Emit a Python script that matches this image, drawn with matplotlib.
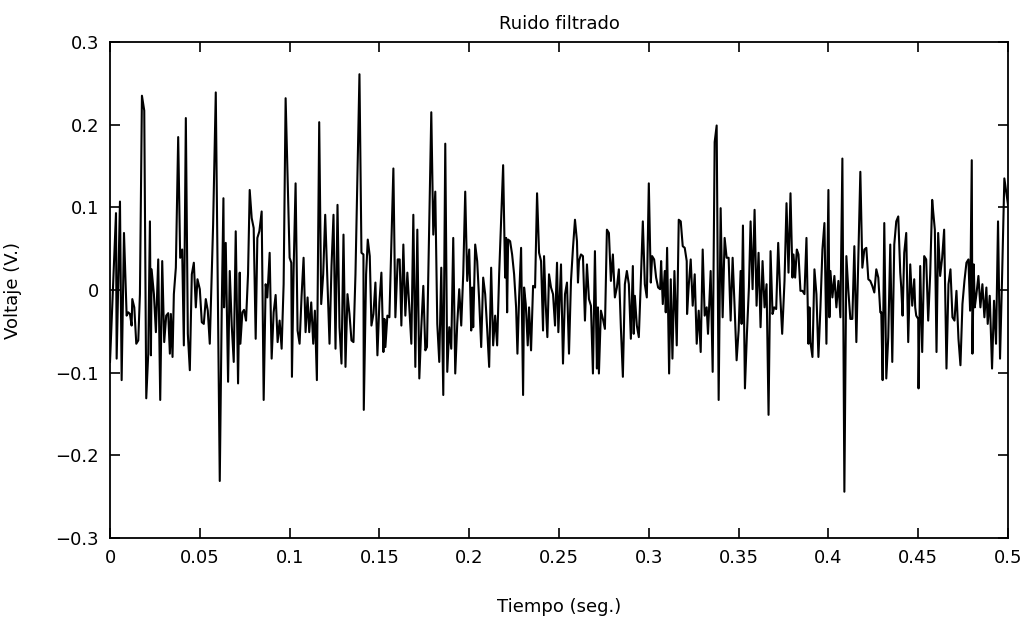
import numpy as np
import matplotlib
matplotlib.use("Agg")
import matplotlib.pyplot as plt

# tiempo en ms, voltaje en V
t_ms = [
    0.0, 3.33, 3.70, 5.55, 6.48, 7.78, 9.26, 10.18, 11.11, 12.03, 12.41, 13.52, 14.63, 15.74, 16.66,
    17.78, 19.07, 20.18, 21.29, 22.22, 22.78, 23.15, 24.44, 25.55, 26.85, 27.96, 29.07, 30.18, 31.29,
    32.41, 33.33, 33.89, 34.81, 35.55, 36.66, 37.96, 39.07, 40.18, 41.11,
    42.22, 43.33, 44.44, 45.55, 46.67, 47.78, 48.70, 50.0, 51.11, 52.22, 53.33, 54.44, 55.55, 57.41,
    58.89, 61.11, 62.22, 63.15, 63.52, 64.44, 65.74, 66.67, 67.78, 68.89, 70.0, 71.30, 72.22, 72.59,
    73.70, 74.63, 75.74, 76.85, 77.78, 78.89, 80.0, 81.11, 82.04,
    83.15, 84.44, 85.56, 86.67, 87.59, 88.89, 90.0, 91.11, 92.22, 93.33, 94.44, 95.56, 96.67, 97.78,
    100.0, 100.93, 101.3, 102.22, 103.33, 104.44, 105.56, 106.67, 107.78, 108.89, 110.0, 110.93,
    112.04, 113.15, 114.07, 115.19, 116.48, 117.59, 118.7, 119.82, 120.93, 122.22, 123.33, 124.44,
    125.56, 126.67, 127.78, 128.89, 130.0, 131.11, 132.22, 133.33, 134.44, 135.56, 136.67, 138.89,
    140.0, 141.11, 141.3, 142.59, 143.52, 144.63, 145.56, 146.67, 147.78, 148.89, 150.0, 151.11,
    152.22, 152.78, 153.33, 154.44, 155.56, 156.67, 157.78, 158.89, 160.19, 161.3, 162.22, 163.33,
    164.44, 165.56,
    166.67, 167.78, 168.89, 170.0, 171.11, 172.22, 173.33, 174.44, 175.56, 176.48, 178.89, 180.0,
    181.11, 182.22, 183.33, 184.44, 185.56, 186.67, 187.78, 188.89, 190.0, 191.11, 192.22, 193.33,
    194.44, 195.56, 196.67, 197.78, 198.89, 200.0, 201.11, 201.67, 202.22, 203.33, 204.44, 205.56,
    206.67, 207.78,
    208.89, 210.0, 211.11, 212.22, 213.33, 214.44, 215.56, 216.67, 218.89, 220.0, 220.56, 221.11,
    221.67, 222.78, 223.89, 225.0, 226.11, 226.85, 227.78, 228.89, 230.0, 230.56, 231.48, 232.59,
    233.33, 234.44, 235.56, 236.67, 237.78, 238.89, 240.0, 241.11, 241.67, 242.59, 243.52, 244.44,
    245.56, 246.67, 247.78, 248.89, 249.63,
    251.11, 252.22, 253.33, 254.44, 255.56, 256.67, 257.78, 258.89, 260.0, 260.56, 261.11, 262.22,
    263.33, 264.44, 265.56, 266.67, 267.78, 268.89, 270.0, 271.11, 271.67, 272.22, 273.33, 274.44,
    275.56, 276.67, 277.78, 278.89, 280.0, 281.11, 282.22, 283.33, 284.44, 285.56, 286.67, 287.78,
    288.89, 290.0, 291.11,
    291.6, 292.22, 293.33, 294.44, 295.56, 296.67, 297.78, 298.89, 300.0, 301.11, 301.85, 302.96,
    304.07, 305.19, 306.3, 306.85, 307.78, 308.89, 309.44, 310.19, 311.3, 312.22, 313.15, 314.26,
    315.56, 316.67, 317.78, 318.89, 320.0, 321.11, 321.3, 322.22, 323.33, 324.44, 325.56, 326.67,
    327.78, 328.89, 330.0, 331.11, 332.22, 332.96,
    334.44, 335.56, 336.67, 337.78, 338.89, 340.0, 341.11, 342.22, 343.33, 344.44, 345.56, 346.67,
    347.78, 348.89, 350.0, 351.11, 351.67, 352.41, 353.52, 354.63, 355.74, 356.67, 357.78, 358.89,
    360.0, 361.11, 362.22, 363.33, 364.44, 365.56, 366.67, 367.78, 368.89, 369.81, 370.93, 372.04,
    373.15, 374.26,
    375.56, 376.67, 377.78, 378.89, 380.0, 380.56, 381.48, 382.41, 383.33, 384.44, 385.56, 386.67,
    387.78, 388.89, 389.44, 390.0, 391.11, 392.22, 393.33, 394.44, 395.56, 396.67, 397.78, 398.89,
    400.0, 400.56, 401.11, 402.22, 403.33, 404.44, 405.56, 406.67, 407.78, 408.89, 410.0, 411.11,
    412.22, 413.33, 414.44, 415.56,
    417.78, 418.89, 420.0, 421.11, 422.22, 423.33, 424.44, 425.56, 426.67, 427.78, 428.89, 429.44,
    430.19, 431.11, 432.22, 433.33, 434.44, 435.56, 436.67, 437.78, 438.89, 440.0, 440.56, 441.3,
    442.22, 443.33, 444.44, 445.56, 446.67, 447.78, 448.33, 448.89, 450.0, 450.19, 451.11, 452.22,
    453.33, 454.44, 455.56, 456.67, 457.78,
    458.33, 459.26, 460.19, 461.11, 462.22, 463.33, 464.44, 465.74, 466.85, 467.96, 469.07, 470.19,
    471.3, 472.41, 473.52, 474.63, 475.74, 476.85, 477.96, 478.89, 479.82, 480.19, 480.93, 481.48,
    482.41, 483.52, 484.63, 485.74, 486.85, 487.96, 488.7, 489.82, 491.11, 492.22, 493.33, 494.44,
    495.56, 496.67, 497.96, 500.0,
]

voltaje = [
    -0.087, 0.093, -0.083, 0.107, -0.109, 0.069, -0.031, -0.027, -0.029, -0.043, -0.011, -0.021, -0.065, -0.061, -0.005,
    0.235, 0.217, -0.131, -0.077, 0.083, -0.079, 0.025, -0.005, -0.051, 0.037, -0.133, 0.035, -0.063, -0.031,
    -0.028, -0.077, -0.029, -0.081, -0.005, 0.027, 0.185, 0.039, 0.049, -0.067,
    0.208, -0.053, -0.097, 0.019, 0.033, -0.021, 0.013, 0.001, -0.039, -0.041, -0.011, -0.025, -0.065, 0.079,
    0.239, -0.231, -0.021, 0.111, -0.021, 0.057, -0.111, 0.023, -0.043, -0.087, 0.071, -0.113, 0.021, -0.065,
    -0.027, -0.024, -0.037, 0.019, 0.121, 0.087, 0.075, -0.059, 0.063,
    0.071, 0.095, -0.133, 0.007, -0.009, 0.045, -0.083, -0.027, -0.006, -0.063, -0.037, -0.071, 0.007, 0.232,
    0.039, 0.033, -0.105, 0.023, 0.129, -0.049, -0.065, -0.007, 0.039, -0.051, -0.009, -0.051,
    -0.015, -0.065, -0.025, -0.109, 0.203, -0.017, 0.019, 0.091, 0.019, -0.065, 0.029, 0.091,
    -0.071, 0.103, -0.045, -0.089, 0.067, -0.093, -0.005, -0.029, -0.061, -0.063, 0.019, 0.261,
    0.045, 0.043, -0.145, 0.019, 0.061, 0.041, -0.043, -0.029, 0.009, -0.079, -0.015, 0.021,
    -0.075, -0.035, -0.069, -0.031, -0.033, 0.059, 0.147, -0.033, 0.037, 0.037, -0.043, 0.055,
    -0.031, 0.021,
    -0.021, -0.065, 0.091, -0.093, 0.073, -0.107, -0.045, 0.005, -0.073, -0.069, 0.215, 0.067,
    0.119, -0.041, -0.087, 0.027, -0.127, 0.177, -0.099, -0.045, -0.071, 0.063, -0.101, -0.041,
    0.001, -0.043, 0.019, 0.119, 0.011, 0.049, -0.049, 0.003, -0.045, 0.055, 0.035, -0.013,
    -0.069, 0.015,
    -0.005, -0.047, -0.093, 0.027, -0.067, -0.031, -0.067, 0.019, 0.151, 0.015, 0.063, -0.027,
    0.061, 0.059, 0.043, 0.019, -0.021, -0.077, -0.009, 0.051, -0.127, 0.003, -0.017, -0.067,
    -0.021, -0.073, 0.005, 0.003, 0.117, 0.045, 0.035, -0.049, 0.041, -0.017, -0.057, 0.019,
    0.003, -0.005, -0.043, 0.033, -0.051,
    0.031, -0.089, -0.005, 0.009, -0.077, 0.011, 0.051, 0.085, 0.059, 0.009, 0.035, 0.043,
    0.041, -0.037, 0.031, -0.011, -0.019, -0.101, 0.047, -0.095, -0.021, -0.101, -0.025, -0.035,
    -0.047, 0.073, 0.069, 0.011, 0.043, -0.009, 0.003, 0.025, -0.045, -0.105, 0.007, 0.023,
    0.007, -0.059, 0.029,
    -0.053, -0.007, -0.043, -0.057, 0.011, 0.083, 0.007, -0.009, 0.129, 0.009, 0.041, 0.037,
    0.015, 0.003, 0.001, 0.035, -0.017, 0.023, -0.027, 0.051, -0.101, 0.013, -0.083, 0.023,
    -0.067, 0.085, 0.083, 0.053, 0.051, 0.035, -0.029, 0.005, 0.037, -0.019, 0.019, -0.065,
    -0.025, -0.075, 0.049, -0.031, -0.021, -0.053,
    0.023, -0.099, 0.179, 0.199, -0.133, 0.099, -0.033, 0.063, 0.039, 0.039, -0.037, 0.039,
    -0.021, -0.085, -0.049, 0.023, -0.041, 0.078, -0.119, -0.053, 0.003, 0.083, 0.001, 0.097,
    -0.019, 0.045, -0.045, 0.035, -0.021, 0.007, -0.151, 0.047, -0.029, -0.021, -0.023, 0.057,
    -0.005, -0.053,
    0.011, 0.105, 0.021, 0.117, 0.015, 0.043, 0.015, 0.049, 0.043, -0.001, -0.001, -0.005,
    0.063, -0.065, -0.021, -0.063, -0.081, 0.025, -0.005, -0.081, -0.021, 0.049, 0.081, -0.065,
    0.121, -0.033, 0.023, -0.009, 0.017, -0.021, 0.011, -0.033, 0.159, -0.244, 0.041, -0.001,
    -0.035, -0.035, 0.053, -0.063,
    0.143, 0.027, 0.049, 0.051, 0.013, 0.011, 0.005, -0.003, 0.025, 0.015, -0.027, -0.027,
    -0.109, 0.081, -0.107, -0.057, 0.055, -0.087, 0.055, 0.083, 0.089, 0.021, 0.003, -0.031,
    0.045, 0.069, -0.063, 0.031, -0.019, 0.013, -0.021, -0.031, -0.035, -0.119, 0.029, -0.075,
    0.041, 0.037, -0.037, 0.019, 0.109,
    0.095, 0.073, -0.075, 0.069, 0.017, 0.039, 0.073, -0.095, 0.007, 0.025, -0.033, -0.037,
    -0.001, -0.059, -0.091, -0.017, 0.011, 0.033, 0.037, -0.025, 0.157, -0.077, 0.031, -0.021,
    -0.005, 0.017, -0.021, 0.007, -0.033, 0.003, -0.041, -0.007, -0.095, -0.013, -0.065, 0.083,
    -0.083, 0.013, 0.135, 0.103,
]

x_ticks = [0, 0.05, 0.1, 0.15, 0.2, 0.25, 0.3, 0.35, 0.4, 0.45, 0.5]
x_labels = ["0", "0.05", "0.1", "0.15", "0.2", "0.25", "0.3", "0.35", "0.4", "0.45", "0.5"]
y_ticks = [-0.3, -0.2, -0.1, 0, 0.1, 0.2, 0.3]
y_labels = ["\u22120.3", "\u22120.2", "\u22120.1", "0", "0.1", "0.2", "0.3"]

t = np.array(t_ms) / 1000.0
v = np.array(voltaje)

plt.rcParams['font.family'] = ['DejaVu Sans']
fig = plt.figure(figsize=(10.31, 6.23), dpi=100)
ax = fig.add_axes([0.1067, 0.1364, 0.871, 0.7962])

ax.plot(t, v, color='black', linewidth=1.5)

ax.set_xlim(0, 0.5)
ax.set_ylim(-0.3, 0.3)
ax.set_xticks(x_ticks)
ax.set_xticklabels(x_labels)
ax.set_yticks(y_ticks)
ax.set_yticklabels(y_labels)
ax.tick_params(direction='in', length=7, width=1.2, top=True, right=True,
               labelsize=13, pad=8)
for s in ax.spines.values():
    s.set_linewidth(1.3)

ax.set_title("Ruido filtrado", fontsize=13, pad=9)
ax.set_xlabel("Tiempo (seg.)", fontsize=13, labelpad=22)
ax.set_ylabel("Voltaje (V.)", fontsize=13, labelpad=24)

fig.savefig("out.png", dpi=100)
